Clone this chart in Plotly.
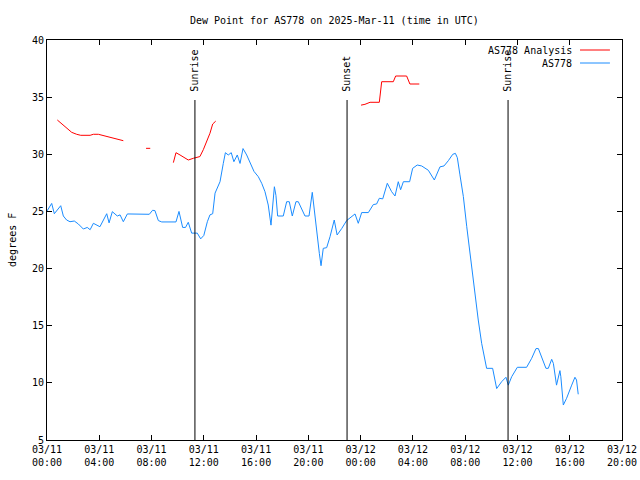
import plotly.graph_objects as go

# ---- data (hours since 2025-03-11 00:00 UTC, dew point in F) ----
obs_hours = [0, 0.36, 0.56, 1.05, 1.25, 1.5, 1.76, 2.09, 2.4, 2.78, 3.08, 3.3, 3.55, 3.8, 4.05,
             4.57, 4.75, 5.0, 5.38, 5.59, 5.84, 6.15, 6.91, 7.83, 8.08, 8.26, 8.52, 8.78, 9.87,
             10.1, 10.38, 10.6, 10.81, 11.07, 11.5, 11.76, 12.0, 12.27, 12.47, 12.68, 12.86,
             13.24, 13.49, 13.65, 13.87, 14.1, 14.3, 14.56, 14.77, 15.0, 15.28, 15.53, 15.84,
             16.17, 16.43, 16.68, 16.93, 17.14, 17.27, 17.4, 17.52, 17.65, 18.08, 18.34, 18.54,
             18.77, 19.05, 19.23, 19.74, 20.05, 20.3, 20.5, 20.68, 20.84, 20.97, 21.14, 21.4,
             21.66, 21.98, 22.2, 22.55, 22.93, 23.57, 23.82, 24.08, 24.59, 24.97, 25.22, 25.43,
             25.69, 26.04, 26.37, 26.63, 26.88, 27.06, 27.27, 27.75, 27.98, 28.33, 28.67, 29.18,
             29.64, 30.07, 30.38, 30.71, 31.05, 31.25, 31.4, 31.6, 31.86, 32.12, 32.24, 32.5,
             32.75, 33.0, 33.26, 33.52, 33.64, 34.1, 34.41, 34.79, 35.12, 35.3, 35.56, 35.99,
             36.7, 37.09, 37.42, 37.6, 37.85, 38.18, 38.36, 38.62, 38.75, 38.99, 39.25, 39.32,
             39.51, 39.76, 40.15, 40.4, 40.52, 40.65]
obs_values = [25.04, 25.7, 24.8, 25.5, 24.6, 24.25, 24.1, 24.16, 23.9, 23.46, 23.6, 23.4, 23.96,
              23.84, 23.66, 24.8, 24.0, 24.98, 24.6, 24.7, 24.1, 24.78, 24.75, 24.75, 25.1, 25.07,
              24.2, 24.08, 24.08, 25.0, 23.6, 23.6, 24.05, 23.1, 23.1, 22.6, 22.9, 24.1, 24.7,
              24.8, 26.6, 27.6, 29.2, 30.14, 29.94, 30.14, 29.35, 29.94, 29.2, 30.5, 29.94, 29.35,
              28.5, 28.04, 27.46, 26.73, 25.56, 23.8, 25.4, 27.16, 26.4, 24.6, 24.6, 25.85, 25.85,
              24.6, 25.85, 25.85, 24.6, 24.6, 26.67, 24.54, 23.1, 21.33, 20.25, 21.77, 21.83,
              22.8, 24.25, 22.94, 23.5, 24.2, 24.78, 23.96, 24.9, 24.9, 25.6, 25.65, 26.15, 26.1,
              27.46, 26.73, 26.35, 27.6, 26.9, 27.6, 27.6, 28.77, 29.06, 28.98, 28.6, 27.75, 28.9,
              28.98, 29.44, 30.0, 30.08, 29.7, 28.2, 26.3, 23.66, 22.5, 20.46, 18.1, 15.5, 13.46,
              11.7, 11.27, 11.27, 9.5, 10.1, 10.49, 9.8, 10.54, 11.36, 11.36, 12.15, 13.0, 13.0,
              12.3, 11.27, 11.27, 12.06, 11.7, 9.8, 11.07, 10.54, 8.06, 8.65, 9.8, 10.49, 10.25,
              9.0]

ana_hours = [0.79, 1.12, 1.5, 1.89, 2.27, 2.58, 3.3, 3.55, 3.93, 4.44, 4.95, 5.46, 5.84, None,
             7.58, 7.9, None,
             9.67, 9.87, 10.18, 10.81, 11.2, 11.45, 11.7, 11.96, 12.22, 12.47, 12.68, 12.91, None,
             24.03, 24.33, 24.72, 25.43, 25.61, 26.12, 26.5, 26.68, 27.52, 27.77, 28.49]
ana_values = [33.0, 32.65, 32.27, 31.92, 31.75, 31.66, 31.66, 31.75, 31.75, 31.6, 31.49, 31.34,
              31.19, None,
              30.52, 30.52, None,
              29.27, 30.14, 29.94, 29.5, 29.65, 29.74, 29.8, 30.4, 31.1, 31.84, 32.65, 32.9, None,
              34.3, 34.37, 34.55, 34.55, 36.35, 36.35, 36.35, 36.85, 36.85, 36.15, 36.15]

event_hours = [11.32, 22.96, 35.28]
event_labels = ["Sunrise", "Sunset", "Sunrise"]

tick_hours = [0, 4, 8, 12, 16, 20, 24, 28, 32, 36, 40, 44]
tick_labels = ["03/11<br>00:00", "03/11<br>04:00", "03/11<br>08:00", "03/11<br>12:00",
               "03/11<br>16:00", "03/11<br>20:00", "03/12<br>00:00", "03/12<br>04:00",
               "03/12<br>08:00", "03/12<br>12:00", "03/12<br>16:00", "03/12<br>20:00"]

RED = "#ff0000"
BLUE = "#1a8cff"
FONT = "DejaVu Sans Mono"

fig = go.Figure()
fig.add_trace(go.Scatter(x=ana_hours, y=ana_values, mode="lines", name="AS778 Analysis",
                         line=dict(color=RED, width=1), connectgaps=False))
fig.add_trace(go.Scatter(x=obs_hours, y=obs_values, mode="lines", name="AS778",
                         line=dict(color=BLUE, width=1)))

for h, lab in zip(event_hours, event_labels):
    fig.add_shape(type="line", x0=h, x1=h, y0=5, y1=34.75, xref="x", yref="y",
                  line=dict(color="black", width=1))
    fig.add_annotation(x=h, y=35.3, xref="x", yref="y", text=lab, textangle=-90,
                       showarrow=False, xanchor="center", yanchor="bottom",
                       font=dict(family=FONT, size=10, color="black"))

# manual gnuplot-style legend (text left of sample line)
legend_items = [("AS778 Analysis", RED, 0.975), ("AS778", BLUE, 0.9425)]
for txt, col, yy in legend_items:
    fig.add_annotation(x=0.917, y=yy, xref="paper", yref="paper", text=txt, showarrow=False,
                       xanchor="right", yanchor="middle",
                       font=dict(family=FONT, size=10, color="black"))
    fig.add_shape(type="line", x0=0.927, x1=0.979, y0=yy, y1=yy, xref="paper", yref="paper",
                  line=dict(color=col, width=1))

fig.add_annotation(x=-0.061, y=0.5, xref="paper", yref="paper", text="degrees F",
                   textangle=-90, showarrow=False, xanchor="center", yanchor="middle",
                   font=dict(family=FONT, size=10, color="black"))

fig.update_layout(
    width=640, height=480,
    margin=dict(l=47, r=18, t=40, b=40, pad=0, autoexpand=False),
    paper_bgcolor="white", plot_bgcolor="white",
    showlegend=False,
    title=dict(text="Dew Point for AS778 on 2025-Mar-11 (time in UTC)", x=0.5225, xanchor="center",
               y=0.958, yanchor="middle", font=dict(family=FONT, size=10, color="black")),
    font=dict(family=FONT, size=10, color="black"),
)
fig.update_xaxes(range=[0, 44], tickvals=tick_hours, ticktext=tick_labels, automargin=False,
                 showgrid=False, zeroline=False, showline=True, linecolor="black", linewidth=1,
                 mirror="allticks", ticks="inside", ticklen=5, tickcolor="black",
                 tickfont=dict(family=FONT, size=10, color="black"))
fig.update_yaxes(range=[5, 40], tickvals=[5, 10, 15, 20, 25, 30, 35, 40], automargin=False,
                 showgrid=False, zeroline=False, showline=True, linecolor="black", linewidth=1,
                 mirror="allticks", ticks="inside", ticklen=5, tickcolor="black",
                 tickfont=dict(family=FONT, size=10, color="black"))

fig.write_html("out.html")
